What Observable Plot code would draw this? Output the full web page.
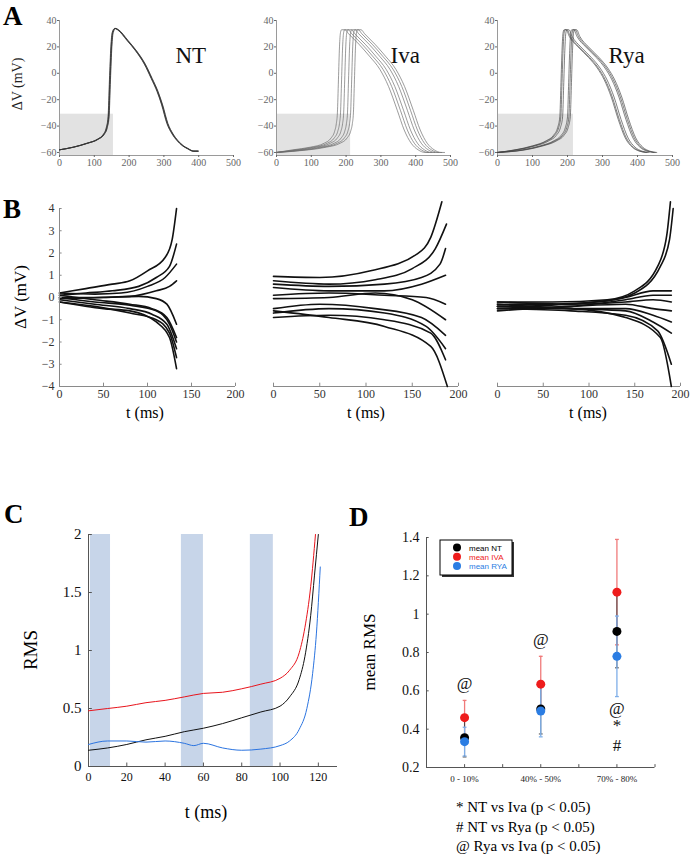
<!DOCTYPE html>
<html><head><meta charset="utf-8">
<script src="https://cdn.jsdelivr.net/npm/d3@7"></script>
<script src="https://cdn.jsdelivr.net/npm/@observablehq/plot@0.6"></script>
<style>body{margin:0;background:#fff}#fig{position:relative;width:695px;height:859px;background:#fff;overflow:hidden}</style>
</head><body><div id="fig"></div>
<script>
// ---------------- DATA ----------------
// Panel A: action potential shapes [t (ms), V (mV)] and per-trace time offsets
const ntBase = [[0,-58],[40,-56],[80,-53],[110,-50],[128,-46],[136,-41],[141,-33],[145,-5],[149,20],[153,31],[160,34],[168,33],[195,25],[220,17],[245,7],[265,-4],[282,-14],[295,-24],[310,-38],[325,-46],[339,-51],[355,-55],[368,-57],[385,-59],[398,-59]];
const ivaBase = [[0,-60],[50,-58],[100,-56],[140,-53],[160,-49],[170,-44],[175,-38],[178,-30],[181,-5],[184,20],[187,31],[190,33],[200,33],[210,30],[240,22],[270,13],[300,3],[325,-10],[350,-28],[370,-43],[390,-53],[410,-58],[430,-60],[440,-60]];
const ryaBase = [[0,-60],[50,-58],[100,-55],[140,-51],[160,-47],[172,-41],[178,-33],[181,-10],[184,15],[187,30],[190,33],[196,33],[205,28],[230,20],[260,12],[285,4],[305,-5],[325,-18],[345,-35],[365,-49],[385,-56],[405,-59],[425,-60]];
const ntShifts = [-1.5,-0.5,0.5,1.5];
const ivaShifts = [-3,6,15,26,35,43];
const ryaShifts = [0,3,8,22,26,30];
const shadeEnds = [155,213,217];
const shadeTop = -31;
const aXTicks = [0,100,200,300,400,500];
const aYTicks = [-60,-40,-20,0,20,40];
const aNames = ["NT","Iva","Rya"];

// Panel B: deviation traces [t (ms), dV (mV)]
const bNT = [
 [[0,0.2],[30,0.4],[60,0.6],[80,0.75],[100,1.2],[120,1.8],[128,2.6],[133,4.0]],
 [[0,0.1],[30,0.2],[60,0.3],[90,0.5],[110,0.9],[125,1.4],[133,2.4]],
 [[0,0.2],[40,0.15],[70,0.2],[100,0.5],[120,0.9],[133,1.5]],
 [[0,0],[40,0],[80,0.05],[110,0.3],[125,0.5],[133,0.75]],
 [[0,-0.05],[50,0],[90,0.05],[110,-0.05],[122,-0.3],[133,-1.2]],
 [[0,0.1],[40,-0.1],[80,-0.3],[105,-0.5],[122,-0.9],[133,-1.8]],
 [[0,-0.1],[40,-0.3],[80,-0.5],[105,-0.75],[122,-1.2],[133,-2.3]],
 [[0,-0.2],[40,-0.4],[80,-0.7],[110,-1.0],[125,-1.6],[133,-2.7]],
 [[0,-0.2],[50,-0.5],[80,-0.6],[110,-1.1],[125,-1.8],[133,-3.2]],
 [[0,0.0],[40,-0.2],[80,-0.35],[110,-0.6],[125,-1.2],[133,-2.0]]
];
const bIva = [
 [[0,0.95],[50,0.9],[105,1.2],[155,1.95],[170,2.7],[182,4.3]],
 [[0,0.75],[60,0.6],[110,0.8],[150,1.3],[175,2.2],[187,3.3]],
 [[0,0.6],[60,0.5],[120,0.6],[160,0.9],[180,1.5],[186,2.2]],
 [[0,0.45],[60,0.3],[120,0.3],[160,0.6],[186,1.0]],
 [[0,0.1],[60,0.2],[120,0.1],[165,0],[186,-0.3]],
 [[0,-0.05],[60,0.0],[110,0.2],[150,-0.1],[186,-1.0]],
 [[0,-0.5],[50,-0.3],[110,-0.5],[160,-0.9],[186,-1.7]],
 [[0,-0.7],[60,-0.5],[120,-0.7],[165,-1.3],[186,-2.3]],
 [[0,-0.9],[60,-0.8],[120,-1.0],[170,-1.6],[186,-2.8]],
 [[0,-0.6],[60,-0.9],[120,-1.3],[170,-2.2],[188,-4.0]]
];
const bRya = [
 [[0,-0.2],[60,-0.2],[120,-0.1],[150,0.3],[175,1.4],[185,2.8],[189,4.3]],
 [[0,-0.3],[60,-0.3],[120,-0.15],[150,0.2],[178,1.4],[188,2.6],[192,4.0]],
 [[0,-0.4],[80,-0.3],[140,0],[170,0.3],[190,0.3]],
 [[0,-0.5],[80,-0.4],[140,-0.1],[170,0.1],[190,0.1]],
 [[0,-0.2],[80,-0.3],[140,-0.2],[170,-0.1],[190,-0.2]],
 [[0,-0.6],[80,-0.4],[140,-0.3],[170,-0.5],[190,-0.6]],
 [[0,-0.4],[80,-0.5],[140,-0.5],[170,-0.8],[190,-1.1]],
 [[0,-0.3],[80,-0.5],[140,-0.6],[170,-1.1],[190,-1.6]],
 [[0,-0.5],[80,-0.6],[140,-0.8],[175,-1.5],[190,-3.0]],
 [[0,-0.4],[80,-0.5],[140,-0.9],[178,-1.8],[190,-4.0]]
];
const bXTicks = [0,50,100,150,200];
const bYTicks = [-4,-3,-2,-1,0,1,2,3,4];

// Panel C: RMS curves
const rmsRed = [[0,0.48],[10,0.5],[20,0.52],[30,0.55],[40,0.57],[50,0.6],[60,0.63],[70,0.64],[80,0.67],[90,0.71],[100,0.76],[105,0.83],[110,0.98],[113,1.2],[116,1.55],[118.5,2.0]];
const rmsBlack = [[0,0.14],[10,0.16],[20,0.19],[30,0.23],[40,0.26],[50,0.3],[60,0.33],[70,0.37],[80,0.42],[90,0.47],[100,0.52],[105,0.6],[110,0.75],[113,0.95],[116,1.3],[118,1.65],[120,2.0]];
const rmsBlue = [[0,0.19],[10,0.22],[20,0.22],[30,0.21],[40,0.22],[50,0.2],[55,0.18],[60,0.2],[70,0.16],[80,0.14],[90,0.15],[100,0.18],[105,0.22],[110,0.32],[114,0.5],[117,0.8],[119,1.15],[121,1.72]];
const cBands = [[1,11.5],[48.5,60],[84.5,96.5]];
const cXTicks = [0,20,40,60,80,100,120];
const cYTicks = [0,0.5,1,1.5,2];
const cYLabels = ["0","0.5","1","1.5","2"];

// Panel D: mean RMS by window
const dCategories = ["0 - 10%","40% - 50%","70% - 80%"];
const meanNT = [0.355,0.505,0.91];
const meanIVA = [0.46,0.635,1.115];
const meanRYA = [0.335,0.495,0.78];
const errNT = [0.1,0.13,0.19];
const errIVA = [0.09,0.145,0.275];
const errRYA = [0.075,0.135,0.21];
const dYTicks = [0.2,0.4,0.6,0.8,1,1.2,1.4];
const dYLabels = ["0.2","0.4","0.6","0.8","1","1.2","1.4"];
const dMarks = [{c:0,y:0.638,s:"@"},{c:1,y:0.868,s:"@"},{c:2,y:0.508,s:"@"},{c:2,y:0.419,s:"*"},{c:2,y:0.315,s:"#"}];
const notes = ["* NT vs Iva (p < 0.05)","# NT vs Rya (p < 0.05)","@ Rya vs Iva (p < 0.05)"];

// ---------------- DRAW ----------------
const fig = document.getElementById("fig");
const SERIF = "Liberation Serif, Times New Roman, serif";
function place(marks, f, xs, ys, noY) {
  const ml=60, mr=30, mt=30, mb=40;
  const p = Plot.plot({
    width: f.x1-f.x0+ml+mr, height: f.y1-f.y0+mt+mb,
    marginLeft: ml, marginRight: mr, marginTop: mt, marginBottom: mb,
    x: {domain: xs}, y: noY ? {domain: ys, axis: null} : {domain: ys},
    style: {background:"transparent", overflow:"visible", fontFamily: SERIF},
    marks
  });
  p.style.position="absolute"; p.style.left=(f.x0-ml)+"px"; p.style.top=(f.y0-mt)+"px";
  fig.appendChild(p);
}
const shifted = (base, shifts) => shifts.flatMap((s,k)=>base.map(([t,v])=>({id:k,t:t===0?0:t+s,v})));
const flat = arr => arr.flatMap((tr,k)=>tr.map(([t,v])=>({id:k,t,v})));

// Panel A
const aFrames = [{x0:59,x1:233},{x0:276,x1:450},{x0:497,x1:672}];
const aTraces = [shifted(ntBase,ntShifts), shifted(ivaBase,ivaShifts), shifted(ryaBase,ryaShifts)];
const aStroke = ["#333","#6a6a6a","#444"];
const aDx = [-58,-60,-64];
const aYmin = -62.3;
aFrames.forEach((fr,i)=>{
  place([
    Plot.rect([shadeEnds[i]], {x1:0, x2:d=>d, y1:aYmin, y2:shadeTop, fill:"#e2e2e2"}),
    Plot.ruleY([aYmin], {stroke:"#9a9a9a"}),
    Plot.ruleX([0], {stroke:"#9a9a9a"}),
    Plot.axisX({ticks:aXTicks, tickSize:2, tickPadding:1, fontSize:10, color:"#666", label:null}),
    Plot.axisY({ticks:aYTicks, tickSize:2, tickPadding:1, fontSize:10, color:"#666", label:null}),
    Plot.line(aTraces[i], {x:"t", y:"v", z:"id", stroke:aStroke[i], strokeWidth:i===0?1:0.9, strokeOpacity:0.75, curve:"monotone-x"}),
    Plot.text([aNames[i]], {frameAnchor:"top-right", dx:aDx[i], dy:26, text:d=>d, fontSize:23, fontFamily:SERIF, fill:"#111", textAnchor:"start"})
  ], {...fr, y0:20, y1:155}, [0,500], [aYmin,40]);
});

// Panel B
const bFrames = [{x0:59,x1:235},{x0:273,x1:458},{x0:497,x1:680}];
const bSets = [bNT,bIva,bRya];
bFrames.forEach((fr,i)=>{
  const marks = [
    Plot.ruleY([-4], {stroke:"#8a8a8a"}),
    Plot.ruleX(bXTicks, {x:d=>d, y1:-4, y2:-3.85, stroke:"#8a8a8a"}),
    Plot.axisX({ticks:bXTicks, tickSize:0, tickPadding:3, fontSize:12, color:"#333", label:null}),
    Plot.line(flat(bSets[i]), {x:"t", y:"v", z:"id", stroke:"#111", strokeWidth:1.6, curve:"monotone-x"})
  ];
  if (i===0) {
    marks.push(Plot.ruleX([0], {stroke:"#8a8a8a"}));
    marks.push(Plot.ruleY(bYTicks, {y:d=>d, x1:0, x2:3, stroke:"#8a8a8a"}));
    marks.push(Plot.axisY({ticks:bYTicks, tickSize:0, tickPadding:5, fontSize:12, color:"#333", label:null}));
  }
  place(marks, {...fr, y0:208, y1:386}, [0,200], [-4,4], i>0);
});

// Panel C
place([
  Plot.rect(cBands, {x1:d=>d[0], x2:d=>d[1], y1:0, y2:2, fill:"#c7d5e9"}),
  Plot.ruleY([0], {stroke:"#555"}),
  Plot.ruleX([0], {stroke:"#555"}),
  Plot.ruleY(cYTicks, {y:d=>d, x1:0, x2:2, stroke:"#555"}),
  Plot.ruleX(cXTicks, {x:d=>d, y1:0, y2:0.03, stroke:"#555"}),
  Plot.axisY({ticks:cYTicks, tickFormat:(d,i)=>cYLabels[i], tickSize:0, tickPadding:7, fontSize:15, color:"#111", label:null}),
  Plot.axisX({ticks:cXTicks, tickSize:0, tickPadding:6, fontSize:12, color:"#111", label:null}),
  Plot.line(rmsBlack.map(([t,v])=>({t,v})), {x:"t", y:"v", stroke:"#111", strokeWidth:1, curve:"monotone-x"}),
  Plot.line(rmsRed.map(([t,v])=>({t,v})), {x:"t", y:"v", stroke:"#e8141c", strokeWidth:1, curve:"monotone-x"}),
  Plot.line(rmsBlue.map(([t,v])=>({t,v})), {x:"t", y:"v", stroke:"#2b74e0", strokeWidth:1, curve:"monotone-x"})
], {x0:88, x1:337, y0:534, y1:766}, [0,130], [0,2]);

// Panel D
const dPos = [1,3,5];
const pts = (m,e,g)=>m.map((v,i)=>({x:dPos[i], y:v, lo:v-e[i], hi:v+e[i], g}));
const dNT = pts(meanNT,errNT,"NT"), dIVA = pts(meanIVA,errIVA,"IVA"), dRYA = pts(meanRYA,errRYA,"RYA");
const errMarks = (data, col, w) => [
  Plot.ruleX(data, {x:"x", y1:"lo", y2:"hi", stroke:col, strokeWidth:w}),
  Plot.link(data, {x1:d=>d.x-0.05, x2:d=>d.x+0.05, y1:"hi", y2:"hi", stroke:col, strokeWidth:w}),
  Plot.link(data, {x1:d=>d.x-0.05, x2:d=>d.x+0.05, y1:"lo", y2:"lo", stroke:col, strokeWidth:w})
];
place([
  Plot.ruleY([0.2], {stroke:"#555"}),
  Plot.ruleX([0], {stroke:"#555"}),
  Plot.ruleY(dYTicks, {y:d=>d, x1:0, x2:0.07, stroke:"#555"}),
  Plot.ruleX([1,2,3,4,5,6], {x:d=>d, y1:0.2, y2:0.215, stroke:"#555"}),
  Plot.axisY({ticks:dYTicks, tickFormat:(d,i)=>dYLabels[i], tickSize:0, tickPadding:7, fontSize:14, color:"#111", label:null}),
  Plot.axisX({ticks:dPos, tickFormat:(d,i)=>dCategories[i], tickSize:0, tickPadding:8, fontSize:9, color:"#222", label:null}),
  ...errMarks(dIVA, "#f07a7a", 1.3),
  ...errMarks(dNT, "#444", 1),
  ...errMarks(dRYA, "#7eaee8", 1.3),
  Plot.dot(dIVA, {x:"x", y:"y", r:4.5, fill:"#ee1c1c"}),
  Plot.dot(dNT, {x:"x", y:"y", r:4.5, fill:"#000"}),
  Plot.dot(dRYA, {x:"x", y:"y", r:4.5, fill:"#2b7de3"}),
  Plot.text(dMarks, {x:d=>dPos[d.c], y:"y", text:"s", fontSize:17, fontFamily:SERIF, fill:"#111"})
], {x0:425.5, x1:654, y0:537, y1:767}, [0,6], [0.2,1.4]);

// ---------------- OVERLAY TEXT ----------------
const ov = d3.select(fig).append("svg").attr("width",695).attr("height",859)
  .style("position","absolute").style("left","0").style("top","0");
function txt(s,x,y,o={}) {
  const t = ov.append("text").attr("x",x).attr("y",y).text(s)
    .attr("font-family", o.family||SERIF).attr("font-size", o.size||14)
    .attr("font-weight", o.weight||"normal").attr("fill", o.color||"#000")
    .attr("text-anchor", o.anchor||"start");
  if (o.rotate) t.attr("transform",`rotate(${o.rotate},${x},${y})`).attr("dominant-baseline","middle");
  return t;
}
txt("A",3,25,{size:27,weight:"bold"});
txt("B",3,218,{size:27,weight:"bold"});
txt("C",4,523,{size:27,weight:"bold"});
txt("D",349,526,{size:27,weight:"bold"});
txt("ΔV (mV)",19,84,{size:14,anchor:"middle",rotate:-90,color:"#222"});
txt("ΔV (mV)",22,297,{size:17,anchor:"middle",rotate:-90});
[145,366,588].forEach(x=>txt("t (ms)",x,418,{size:16,anchor:"middle"}));
txt("RMS",33,650,{size:19,anchor:"middle",rotate:-90});
txt("t (ms)",206,818,{size:18,anchor:"middle"});
txt("mean RMS",371,652,{size:17,anchor:"middle",rotate:-90});
notes.forEach((n,i)=>txt(n,456,812+i*19.5,{size:15}));
// legend
ov.append("rect").attr("x",442).attr("y",542).attr("width",72).attr("height",35).attr("fill","#333");
ov.append("rect").attr("x",440).attr("y",540).attr("width",72).attr("height",35).attr("fill","#fff").attr("stroke","#000").attr("stroke-width",1);
const legItems = [["mean NT","#000","#000"],["mean IVA","#ee1c1c","#ee1c1c"],["mean RYA","#2b7de3","#2b7de3"]];
legItems.forEach(([lab,dc,tc],i)=>{
  ov.append("circle").attr("cx",457).attr("cy",547.5+i*9.3).attr("r",4).attr("fill",dc);
  txt(lab,469,550.5+i*9.3,{size:8,family:"Liberation Sans, Arial, sans-serif",color:tc});
});
</script></body></html>
